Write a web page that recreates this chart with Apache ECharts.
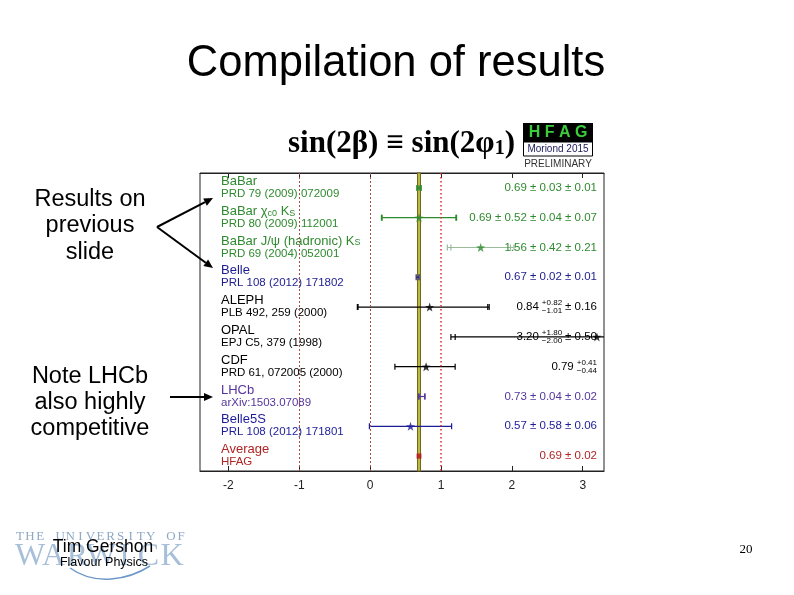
<!DOCTYPE html>
<html>
<head>
<meta charset="utf-8">
<script src="https://cdn.jsdelivr.net/npm/echarts@6/dist/echarts.min.js"></script>
<style>
html, body { margin: 0; padding: 0; background: #fff; }
#chartBox { width: 794px; height: 595px; }
</style>
</head>
<body>
<div id="chartBox"></div>
<script>
// measurements, top to bottom
var names = ['BaBar', 'BaBar χ_{c0} K_{S}', 'BaBar J/ψ (hadronic) K_{S}', 'Belle', 'ALEPH', 'OPAL', 'CDF', 'LHCb', 'Belle5S', 'Average'];
var refs = ['PRD 79 (2009) 072009', 'PRD 80 (2009) 112001', 'PRD 69 (2004) 052001', 'PRL 108 (2012) 171802',
  'PLB 492, 259 (2000)', 'EPJ C5, 379 (1998)', 'PRD 61, 072005 (2000)', 'arXiv:1503.07089', 'PRL 108 (2012) 171801', 'HFAG'];
var central = [0.69, 0.69, 1.56, 0.67, 0.84, 3.20, 0.79, 0.73, 0.57, 0.69];
var statLo = [0.03, 0.52, 0.42, 0.02, 1.01, 2.00, 0.44, 0.04, 0.58, 0.02];
var statHi = [0.03, 0.52, 0.42, 0.02, 0.82, 1.80, 0.41, 0.04, 0.58, 0.02];
var totLo = [0.03, 0.53, 0.47, 0.02, 1.02, 2.06, 0.44, 0.045, 0.58, 0.02];
var totHi = [0.03, 0.53, 0.47, 0.02, 0.84, 1.87, 0.41, 0.045, 0.58, 0.02];
var markers = ['rect', 'star', 'star', 'none', 'star', 'star', 'star', 'none', 'star', 'rect'];
var valText = ['0.69 ± 0.03 ± 0.01', '0.69 ± 0.52 ± 0.04 ± 0.07', '1.56 ± 0.42 ± 0.21', '0.67 ± 0.02 ± 0.01',
  '0.84', '3.20', '0.79', '0.73 ± 0.04 ± 0.02', '0.57 ± 0.58 ± 0.06', '0.69 ± 0.02'];
var valSup = ['', '', '', '', '+0.82', '+1.80', '+0.41', '', '', ''];
var valSub = ['', '', '', '', '−1.01', '−2.00', '−0.44', '', '', ''];
var valTail = ['', '', '', '', '± 0.16', '± 0.50', '', '', '', ''];
var avg = 0.69, avgErr = 0.02;
var boundaries = [-1, 0, 1];
var xTicks = [-2, -1, 0, 1, 2, 3];
var xMin = -2.4, xMax = 3.3;

var colors = ['#2f8a2f', '#2f8a2f', '#2f8a2f', '#1c1c8e', '#000', '#000', '#000', '#55349e', '#1c1c99', '#b02424'];
var barColors = ['#2f8a2f', '#2f8a2f', '#9bbb9b', '#1c1c8e', '#000', '#000', '#000', '#55349e', '#1c1c99', '#b02424'];
var sans = '"Liberation Sans", Arial, sans-serif';
var serif = '"Liberation Serif", "Times New Roman", serif';
var star = 'path://M0,-10L2.35,-3.24L9.51,-3.09L3.8,1.24L5.88,8.09L0,4L-5.88,8.09L-3.8,1.24L-9.51,-3.09L-2.35,-3.24Z';

var measureCtx = document.createElement('canvas').getContext('2d');
function textWidth(s, font) {
  measureCtx.font = font;
  return measureCtx.measureText(s).width;
}

// left labels: name + reference, coloured per row
var rich = {};
colors.forEach(function (c, i) {
  rich['n' + i] = { color: c, fontSize: 13, fontFamily: sans, lineHeight: 15, verticalAlign: 'bottom' };
  rich['s' + i] = { color: c, fontSize: 9, fontFamily: sans, lineHeight: 7, verticalAlign: 'bottom' };
  rich['r' + i] = { color: c, fontSize: 11.5, fontFamily: sans, lineHeight: 12 };
});
function labelFormatter(value, i) {
  var n = '{n' + i + '|' + names[i].replace(/_\{([^}]*)\}/g, '}{s' + i + '|$1}{n' + i + '|') + '}';
  n = n.replace(new RegExp('\\{n' + i + '\\|\\}', 'g'), '');
  return n + '\n{r' + i + '|' + refs[i] + '}';
}

function renderBar(params, api) {
  var i = api.value(0);
  var lo = api.value(1), hi = api.value(2), slo = api.value(3), shi = api.value(4);
  var a = api.coord([Math.max(lo, xMin), i]);
  var b = api.coord([Math.min(hi, xMax), i]);
  var y = a[1];
  var col = barColors[i];
  var kids = [{ type: 'line', shape: { x1: a[0], y1: y, x2: b[0], y2: y }, style: { stroke: col, lineWidth: 1.2 } }];
  function cap(x) {
    kids.push({ type: 'line', shape: { x1: x, y1: y - 3, x2: x, y2: y + 3 }, style: { stroke: col, lineWidth: 1.2 } });
  }
  if (lo >= xMin) cap(a[0]);
  if (hi <= xMax) cap(b[0]);
  if (slo !== lo) cap(api.coord([slo, i])[0]);
  if (shi !== hi && shi <= xMax) cap(api.coord([shi, i])[0]);
  return { type: 'group', children: kids };
}

function renderValue(params, api) {
  var i = api.value(0);
  var cs = params.coordSys;
  var y = api.coord([0, i])[1];
  var xr = cs.x + cs.width - 7;
  var font = '11.5px ' + sans;
  var small = '8px ' + sans;
  var kids = [];
  if (valTail[i]) {
    kids.push({ type: 'text', style: { text: valTail[i], x: xr, y: y, align: 'right', verticalAlign: 'middle', font: font, fill: colors[i] } });
    xr -= textWidth(valTail[i], font) + 3;
  }
  if (valSup[i]) {
    var w = Math.max(textWidth(valSup[i], small), textWidth(valSub[i], small));
    kids.push({ type: 'text', style: { text: valSup[i], x: xr - w, y: y - 4, align: 'left', verticalAlign: 'middle', font: small, fill: colors[i] } });
    kids.push({ type: 'text', style: { text: valSub[i], x: xr - w, y: y + 4, align: 'left', verticalAlign: 'middle', font: small, fill: colors[i] } });
    xr -= w + 3;
  }
  kids.push({ type: 'text', style: { text: valText[i], x: xr, y: y, align: 'right', verticalAlign: 'middle', font: font, fill: colors[i] } });
  return { type: 'group', children: kids };
}

function arrow(x1, y1, x2, y2) {
  var dx = x2 - x1, dy = y2 - y1, len = Math.sqrt(dx * dx + dy * dy);
  var ux = dx / len, uy = dy / len;
  var bx = x2 - 9 * ux, by = y2 - 9 * uy;
  return [
    { type: 'line', shape: { x1: x1, y1: y1, x2: bx, y2: by }, style: { stroke: '#000', lineWidth: 2 } },
    { type: 'polygon', shape: { points: [[x2, y2], [bx - 4 * uy, by + 4 * ux], [bx + 4 * uy, by - 4 * ux]] }, style: { fill: '#000' } }
  ];
}

function spaced(text, x0, x1, y, font, color) {
  var letters = text.split('');
  var step = (x1 - x0) / (letters.length - 1);
  return letters.map(function (ch, k) {
    return { type: 'text', style: { text: ch, x: x0 + k * step, y: y, align: 'center', verticalAlign: 'middle', font: font, fill: color } };
  });
}

var rows = names.map(function (n, i) {
  return [i, central[i] - totLo[i], central[i] + totHi[i], central[i] - statLo[i], central[i] + statHi[i]];
});
var markerData = [];
central.forEach(function (v, i) {
  if (markers[i] === 'none') return;
  markerData.push({
    value: [v, i],
    symbol: markers[i] === 'star' ? star : 'rect',
    symbolSize: markers[i] === 'star' ? 9 : 5,
    itemStyle: { color: colors[i] }
  });
});

var graphics = [
  { type: 'text', style: { text: 'Compilation of results', x: 396, y: 64, align: 'center', verticalAlign: 'middle', font: '43.5px ' + sans, fill: '#000' } },
  { type: 'text', style: { text: '{a|sin(2β) ≡ sin(2φ}{s|1}{a|)}', x: 288, y: 142, align: 'left', verticalAlign: 'middle',
    rich: { a: { font: 'bold 31px ' + serif, fill: '#000', lineHeight: 34, verticalAlign: 'bottom' },
            s: { font: 'bold 20px ' + serif, fill: '#000', lineHeight: 14, verticalAlign: 'bottom' } } } },
  { type: 'rect', shape: { x: 523, y: 123, width: 70, height: 19 }, style: { fill: '#000' } },
  { type: 'text', style: { text: 'H F A G', x: 558, y: 133, align: 'center', verticalAlign: 'middle', font: 'bold 16px ' + sans, fill: '#3ccc3c' } },
  { type: 'rect', shape: { x: 523.5, y: 142, width: 69, height: 14 }, style: { fill: '#fff', stroke: '#000', lineWidth: 1 } },
  { type: 'text', style: { text: 'Moriond 2015', x: 558, y: 149.5, align: 'center', verticalAlign: 'middle', font: '10px ' + sans, fill: '#1a1a5a' } },
  { type: 'text', style: { text: 'PRELIMINARY', x: 558, y: 164, align: 'center', verticalAlign: 'middle', font: '10px ' + sans, fill: '#333' } },
  { type: 'text', style: { text: 'Results on\nprevious\nslide', x: 90, y: 226, align: 'center', verticalAlign: 'middle', font: '23.5px ' + sans, lineHeight: 26.5, fill: '#000' } },
  { type: 'text', style: { text: 'Note LHCb\nalso highly\ncompetitive', x: 90, y: 403, align: 'center', verticalAlign: 'middle', font: '23.5px ' + sans, lineHeight: 26, fill: '#000' } },
  { type: 'bezierCurve', shape: { x1: 70, y1: 568, cpx1: 95, cpy1: 586, cpx2: 128, cpy2: 580, x2: 150, y2: 566 }, style: { stroke: '#6c98c8', lineWidth: 1.5, fill: null } },
  { type: 'text', style: { text: 'Tim Gershon', x: 103, y: 547, align: 'center', verticalAlign: 'middle', font: '17.5px ' + sans, fill: '#000' } },
  { type: 'text', style: { text: 'Flavour Physics', x: 104, y: 563, align: 'center', verticalAlign: 'middle', font: '12.5px ' + sans, fill: '#000' } },
  { type: 'text', style: { text: '20', x: 746, y: 550, align: 'center', verticalAlign: 'middle', font: '13px ' + serif, fill: '#000' } }
];
graphics = graphics.concat(arrow(157, 227, 213, 198), arrow(157, 227, 213, 268), arrow(170, 397, 213, 397));
graphics = spaced('THE UNIVERSITY OF', 20, 181, 537, '13px ' + serif, '#8ea8c8').concat(
  spaced('WARWICK', 30, 172, 557, '32px ' + serif, '#a8bfd9')).concat(graphics);

var myChart = echarts.init(document.getElementById('chartBox'));
myChart.setOption({
  backgroundColor: '#fff',
  animation: false,
  graphic: { elements: graphics },
  grid: { left: 200, top: 173, width: 404, height: 298, show: true, borderColor: '#222', borderWidth: 1, backgroundColor: '#fff' },
  xAxis: [{
    type: 'value', min: xMin, max: xMax, position: 'bottom',
    axisLine: { show: true, onZero: false, lineStyle: { color: '#222' } },
    axisTick: { show: true, inside: true, length: 5, customValues: xTicks, lineStyle: { color: '#222' } },
    axisLabel: { customValues: xTicks, color: '#222', fontSize: 12, fontFamily: sans, margin: 9 },
    splitLine: { show: false }
  }, {
    type: 'value', min: xMin, max: xMax, position: 'top',
    axisLine: { show: true, onZero: false, lineStyle: { color: '#222' } },
    axisTick: { show: true, inside: true, length: 5, customValues: xTicks, lineStyle: { color: '#222' } },
    axisLabel: { show: false },
    splitLine: { show: false }
  }],
  yAxis: {
    type: 'category', data: names, inverse: true,
    axisLine: { show: false }, axisTick: { show: false }, splitLine: { show: false },
    axisLabel: { inside: true, interval: 0, margin: 21, padding: [0, 0, 3, 0], formatter: labelFormatter, rich: rich }
  },
  series: [{
    type: 'scatter', z: 1, symbolSize: 0, data: [[avg, 9]],
    markArea: {
      silent: true,
      itemStyle: { color: '#d3ca48', borderColor: '#6f6a1f', borderWidth: 1.2 },
      data: [[{ xAxis: avg - avgErr }, { xAxis: avg + avgErr }]]
    },
    markLine: {
      silent: true, symbol: 'none', label: { show: false },
      data: boundaries.map(function (b) {
        return { xAxis: b, lineStyle: { color: b === 1 ? '#dd2a2a' : '#a84a4a', type: b === 1 ? [1.5, 2.5] : [2, 2], width: b === 1 ? 1.5 : 1 } };
      })
    }
  }, {
    type: 'custom', z: 2, renderItem: renderBar, data: rows,
    encode: { x: [1, 2, 3, 4], y: 0 }
  }, {
    type: 'scatter', z: 3, data: markerData
  }, {
    type: 'custom', z: 4, renderItem: renderValue, data: rows,
    encode: { x: [1, 2], y: 0 }
  }]
});
</script>
</body>
</html>
